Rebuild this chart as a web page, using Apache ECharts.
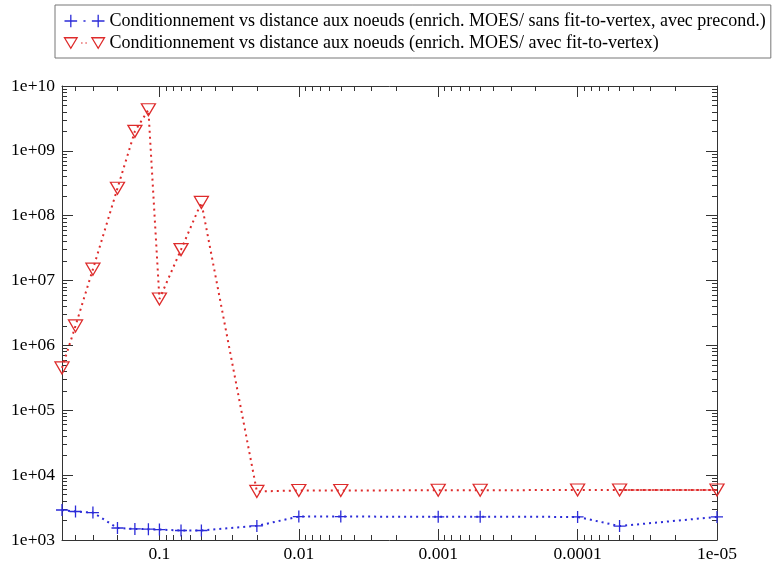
<!DOCTYPE html>
<html>
<head>
<meta charset="utf-8">
<script src="https://cdn.jsdelivr.net/npm/echarts@6/dist/echarts.min.js"></script>
<style>
html,body{margin:0;padding:0;background:#fff;}
#chart{width:776px;height:565px;}
</style>
</head>
<body>
<div id="chart"></div>
<script>
// ---- data ----
var distances = [0.5, 0.4, 0.3, 0.2, 0.15, 0.12, 0.1, 0.07, 0.05, 0.02, 0.01, 0.005, 0.001, 0.0005, 0.0001, 0.00005, 0.00001];
var condSansFit = [2900, 2750, 2650, 1530, 1480, 1470, 1450, 1400, 1400, 1650, 2300, 2300, 2280, 2280, 2270, 1640, 2270];
var condAvecFit = [4.5e5, 2.0e6, 1.5e7, 2.65e8, 2.0e9, 4.3e9, 5.2e6, 3.0e7, 1.6e8, 5600, 5800, 5800, 5850, 5850, 5900, 5900, 5900];
var seriesNames = [
  'Conditionnement vs distance aux noeuds (enrich. MOES/ sans fit-to-vertex, avec precond.)',
  'Conditionnement vs distance aux noeuds (enrich. MOES/ avec fit-to-vertex)'
];
var xTickLabels = [0.1, 0.01, 0.001, 0.0001, 0.00001];
var yTickLabels = [1e3, 1e4, 1e5, 1e6, 1e7, 1e8, 1e9, 1e10];

var X_MIN = 0.00001, X_MAX = 0.5, Y_MIN = 1e3, Y_MAX = 1e10;

function minorTicks(lo, hi) {
  var out = [];
  for (var e = Math.floor(Math.log10(lo)); e <= Math.ceil(Math.log10(hi)); e++) {
    for (var m = 2; m <= 9; m++) {
      var v = parseFloat((m * Math.pow(10, e)).toPrecision(6));
      if (v >= lo && v <= hi) out.push(v);
    }
  }
  return out;
}
var xMinor = minorTicks(X_MIN, X_MAX);
var yMinor = minorTicks(Y_MIN, Y_MAX);

function pad2(n){ return (n < 10 ? '0' : '') + n; }
function fmtX(v) {
  if (v >= 1e-4) return String(parseFloat(v.toPrecision(6)));
  var e = Math.round(Math.log10(v));
  return '1e-' + pad2(-e);
}
function fmtY(v) {
  var e = Math.round(Math.log10(v));
  return '1e+' + pad2(e);
}

var BLUE = '#2b2bd8', RED = '#de2b2b', AXIS = '#333';
var FONT = 'Liberation Serif';

function xAx(pos, major, showLabel) {
  return {
    type: 'log', logBase: 10, min: X_MIN, max: X_MAX, inverse: true, position: pos,
    gridIndex: 0,
    axisLine: { show: major, lineStyle: { color: AXIS, width: 1 } },
    axisTick: { show: true, inside: true, length: major ? 11 : 5,
      customValues: major ? xTickLabels : xMinor, lineStyle: { color: AXIS, width: 1 } },
    axisLabel: { show: showLabel, customValues: xTickLabels, formatter: fmtX,
      fontFamily: FONT, fontSize: 17.5, color: '#000', margin: 5 },
    splitLine: { show: false }, minorTick: { show: false }
  };
}
function yAx(pos, major, showLabel) {
  return {
    type: 'log', logBase: 10, min: Y_MIN, max: Y_MAX, position: pos,
    gridIndex: 0,
    axisLine: { show: major, lineStyle: { color: AXIS, width: 1 } },
    axisTick: { show: true, inside: true, length: major ? 11 : 5,
      customValues: major ? yTickLabels : yMinor, lineStyle: { color: AXIS, width: 1 } },
    axisLabel: { show: showLabel, customValues: yTickLabels, formatter: fmtY,
      fontFamily: FONT, fontSize: 17.5, color: '#000', margin: 7 },
    splitLine: { show: false }, minorTick: { show: false }
  };
}

var pairsSans = distances.map(function (d, i) { return [d, condSansFit[i]]; });
var pairsAvec = distances.map(function (d, i) { return [d, condAvecFit[i]]; });

var chart = echarts.init(document.getElementById('chart'), null, { renderer: 'canvas' });
chart.setOption({
  animation: false,
  backgroundColor: '#fff',
  grid: { left: 62, right: 59, top: 86, bottom: 25, containLabel: false },
  legend: {
    orient: 'vertical', left: 55, top: 5,
    padding: [7, 5, 6, 7],
    itemWidth: 40, itemHeight: 14, itemGap: 4,
    borderColor: '#777', borderWidth: 1, borderRadius: 0,
    textStyle: { fontFamily: FONT, fontSize: 18, color: '#000' },
    selectedMode: false,
    data: [
      { name: seriesNames[0],
        icon: 'path://M1,7H13M7,1V13M19,7H21M27,7H39M33,1V13',
        itemStyle: { color: 'none', borderColor: BLUE, borderWidth: 1.3 } },
      { name: seriesNames[1],
        icon: 'path://M1,2H13L7,12Z M17,7H18 M21,7H22 M27,2H39L33,12Z',
        itemStyle: { color: 'none', borderColor: RED, borderWidth: 1.3 } }
    ]
  },
  xAxis: [ xAx('bottom', true, true), xAx('bottom', false, false), xAx('top', true, false), xAx('top', false, false) ],
  yAxis: [ yAx('left', true, true), yAx('left', false, false), yAx('right', true, false), yAx('right', false, false) ],
  series: [
    {
      name: seriesNames[0], type: 'line', xAxisIndex: 0, yAxisIndex: 0,
      data: pairsSans, clip: false,
      symbol: 'path://M0,6H12M6,0V12', symbolSize: 12,
      itemStyle: { color: BLUE, borderColor: BLUE, borderWidth: 1.3 },
      lineStyle: { color: BLUE, width: 2, type: [2, 4] },
      emphasis: { disabled: true }, z: 3
    },
    {
      name: seriesNames[1], type: 'line', xAxisIndex: 0, yAxisIndex: 0,
      data: pairsAvec, clip: false,
      symbol: 'triangle', symbolRotate: 180, symbolSize: [14, 12],
      itemStyle: { color: 'rgba(255,255,255,0)', borderColor: RED, borderWidth: 1.3 },
      lineStyle: { color: RED, width: 2, type: [2, 4] },
      emphasis: { disabled: true }, z: 4
    },
    {
      name: 'tail', type: 'line', xAxisIndex: 0, yAxisIndex: 0,
      data: pairsAvec.slice(pairsAvec.length - 2), symbol: 'none',
      lineStyle: { color: RED, width: 2, type: [3, 1], opacity: 0.8 },
      emphasis: { disabled: true }, z: 2, silent: true
    }
  ]
});
</script>
</body>
</html>
